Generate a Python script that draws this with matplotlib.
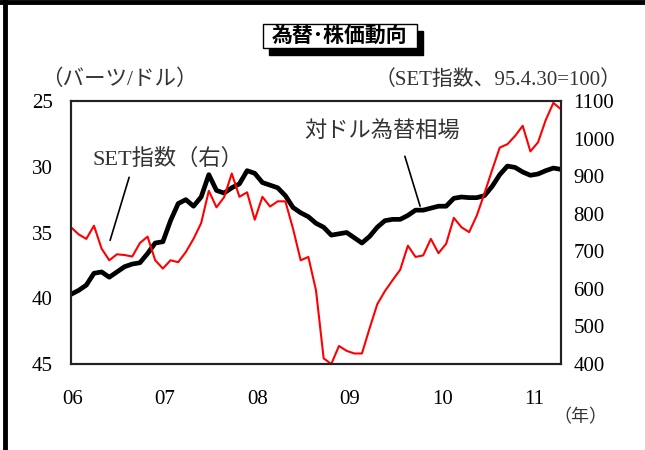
import matplotlib
matplotlib.use('Agg')
import matplotlib.pyplot as plt
from matplotlib.patches import Rectangle
from matplotlib.lines import Line2D

# データ(2006年1月~2011年5月、月次)
baht_usd = [39.7, 39.4, 39.0, 38.1, 38.0, 38.4, 38.0, 37.6, 37.4, 37.3,
            36.6, 35.8, 35.7, 34.1, 32.8, 32.5, 33.0, 32.3, 30.6, 31.8,
            32.0, 31.6, 31.3, 30.3, 30.5, 31.2, 31.4, 31.6, 32.2, 33.1,
            33.5, 33.8, 34.3, 34.6, 35.2, 35.1, 35.0, 35.4, 35.8, 35.3,
            34.6, 34.1, 34.0, 34.0, 33.7, 33.3, 33.3, 33.15, 33.0, 33.0,
            32.4, 32.3, 32.35, 32.35, 32.2, 31.5, 30.6, 29.95, 30.05, 30.4,
            30.65, 30.55, 30.3, 30.1, 30.2]
set_index = [764, 745, 733, 768, 707, 676, 692, 690, 686, 722,
             739, 676, 654, 676, 671, 698, 733, 775, 861, 817,
             844, 907, 845, 857, 784, 845, 819, 833, 833, 760,
             676, 685, 596, 415, 400, 448, 435, 428, 428, 495,
             559, 594, 623, 651, 715, 685, 689, 733, 695, 720,
             789, 764, 751, 795, 854, 916, 976, 985, 1007, 1034,
             966, 990, 1049, 1095, 1078]
year_labels = ['06', '07', '08', '09', '10', '11']

W, H = 645, 450
FONT = ['Liberation Serif', 'Noto Sans CJK JP']


def px(x, y):
    # ピクセル座標 -> figure座標
    return x / W, 1 - y / H


fig = plt.figure(figsize=(6.45, 4.5), dpi=100)
ax = fig.add_axes([71 / W, 1 - 364 / H, 490 / W, 263 / H])
ax2 = ax.twinx()

x = list(range(len(baht_usd)))
ax.plot(x, baht_usd, color='black', linewidth=3.4, solid_joinstyle='round')
ax2.plot(x, set_index, color='#ff0000', linewidth=1.5)

ax.set_xlim(0, len(x) - 1)
ax.set_ylim(45, 25)
ax.set_yticks([25, 30, 35, 40, 45])
ax2.set_ylim(400, 1100)
ax2.set_yticks(range(400, 1101, 100))
ax.set_xticks([0.2 + 12.07 * i for i in range(len(year_labels))])
ax.set_xticklabels(year_labels)

for a in (ax, ax2):
    for s in a.spines.values():
        s.set_linewidth(1.5)
        s.set_color('#222222')
    a.tick_params(length=0, labelsize=15)
    for lab in a.get_xticklabels() + a.get_yticklabels():
        lab.set_family(FONT)
ax.tick_params(axis='y', pad=13)
ax.tick_params(axis='x', pad=19)
ax2.tick_params(axis='y', pad=9)

# 系列の注記
ax.text(12.6, 29.4, 'SET指数（右）', fontsize=16, family=FONT,
        ha='center', va='center', color='#333333')
ax.annotate('', xy=(5.0, 35.8), xytext=(7.7, 30.6),
            arrowprops=dict(arrowstyle='-', lw=1.2, color='black'))
ax.text(40.6, 27.3, '対ドル為替相場', fontsize=16, family=FONT,
        ha='center', va='center', color='#333333')
ax.annotate('', xy=(45.7, 33.2), xytext=(43.5, 29.0),
            arrowprops=dict(arrowstyle='-', lw=1.2, color='black'))

# 軸の単位
fig.text(*px(119, 80), '（バーツ/ドル）', fontsize=15.5, family=FONT,
         ha='center', va='center', color='#333333')
fig.text(*px(622, 80), '（SET指数、95.4.30=100）', fontsize=15, family=FONT,
         ha='right', va='center', color='#333333')
fig.text(*px(580, 418), '（年）', fontsize=13, family=FONT,
         ha='center', va='center', color='#333333')

# タイトル(影付きの枠)
fig.patches.append(Rectangle(px(269, 55), 154 / W, 24 / H, transform=fig.transFigure,
                             facecolor='black', edgecolor='black', zorder=1))
fig.patches.append(Rectangle(px(263, 48), 154 / W, 24 / H, transform=fig.transFigure,
                             facecolor='white', edgecolor='black', linewidth=1, zorder=2))
fig.text(*px(340, 36.5), '為替･株価動向', fontsize=15, fontweight='bold',
         family='Noto Sans CJK JP', ha='center', va='center', zorder=3)

# 外枠(左と上)
fig.lines.append(Line2D([5 / W, 5 / W], [0, 1], transform=fig.transFigure,
                        color='black', linewidth=3.5))
fig.lines.append(Line2D([0, 1], [1 - 2 / H, 1 - 2 / H], transform=fig.transFigure,
                        color='black', linewidth=3.5))

fig.savefig('out.png', dpi=100)
